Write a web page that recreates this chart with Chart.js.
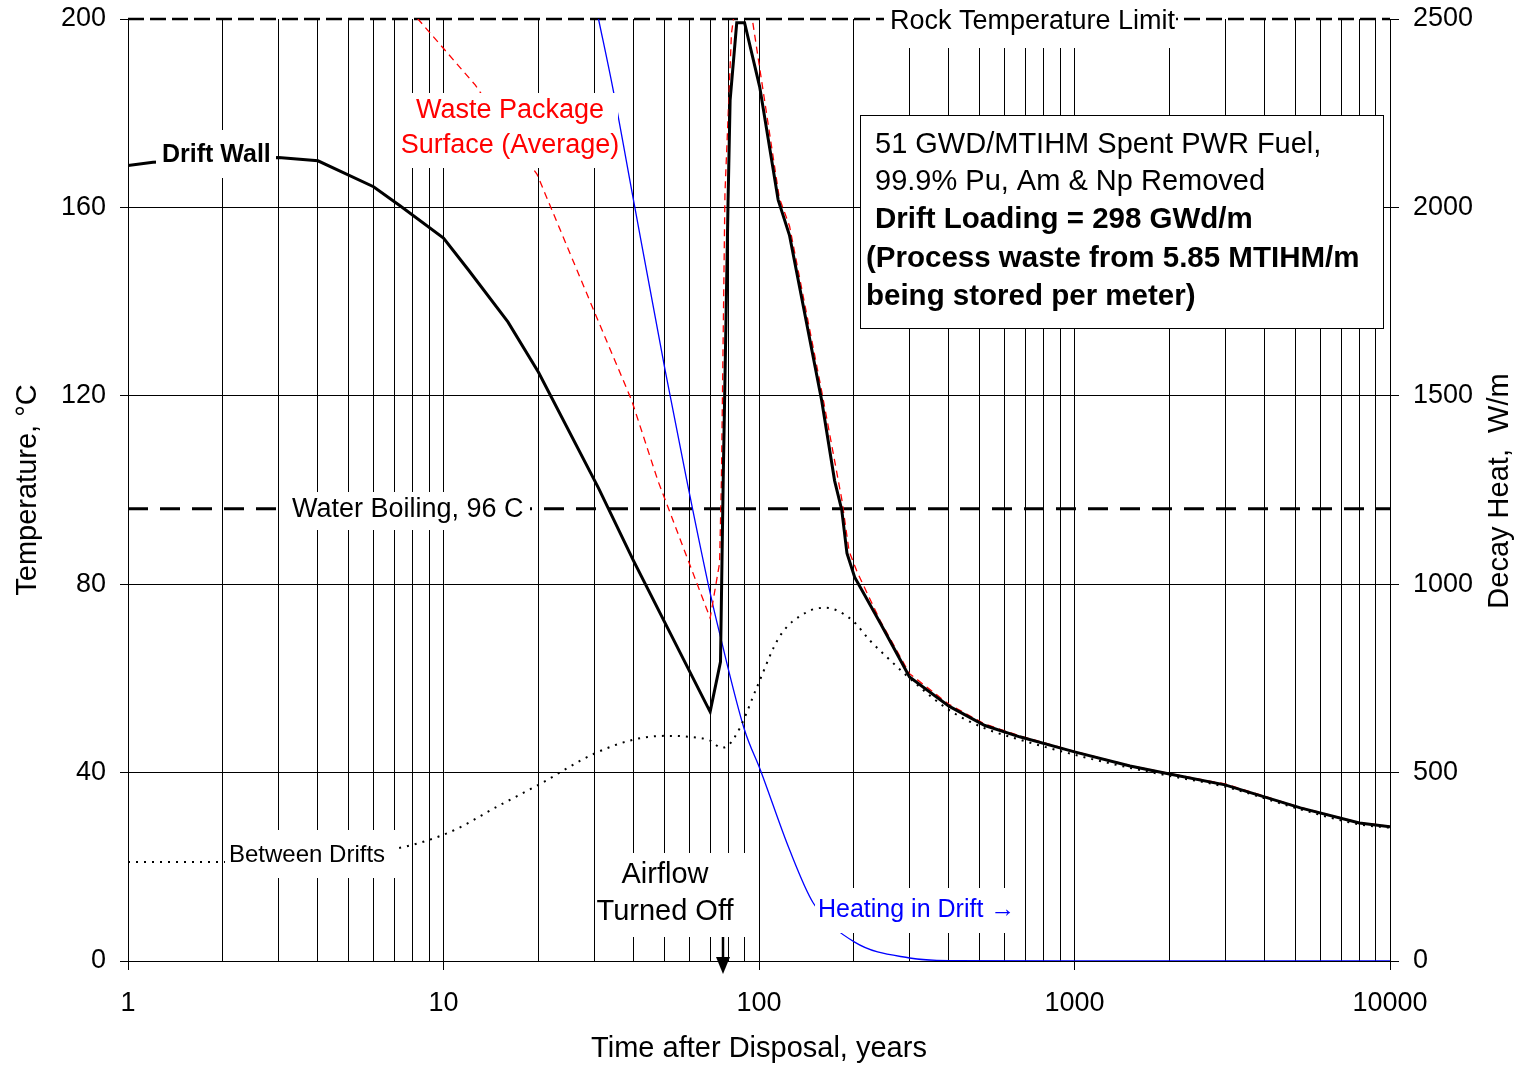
<!DOCTYPE html>
<html>
<head>
<meta charset="utf-8">
<title>Drift temperatures after disposal</title>
<script src="https://cdn.jsdelivr.net/npm/chart.js@4.4.1/dist/chart.umd.min.js"></script>
<style>
  html, body { margin: 0; padding: 0; background: #fff; }
  #wrap { width: 1520px; height: 1066px; }
</style>
</head>
<body>
<div id="wrap"><canvas id="chart" width="1520" height="1066"></canvas></div>
<script>
// years after disposal / temperature (C)
const driftWallYears = [1, 1.2, 3, 4, 6, 7.3, 10, 12, 16, 20, 31, 40, 70, 75.5, 77, 79.8, 81, 85, 90, 100.5, 115, 125, 158, 173.6, 183, 190, 201, 242, 300, 400, 520, 670, 1000, 1500, 2000, 3000, 5200, 8000, 10000];
const driftWallTemp  = [168.9, 169.6, 170.6, 169.9, 164.4, 160.3, 153.5, 146.7, 135.7, 125, 100.4, 85, 52.9, 63.5, 102, 161.6, 182.8, 199.2, 199.2, 185.6, 161.6, 154, 119, 102, 95.7, 86.6, 81.5, 71.8, 60.3, 54.1, 50, 47.6, 44.4, 41.4, 39.7, 37.4, 32.5, 29.3, 28.5];

const packageYears = [7, 8.3, 12.6, 19.8, 30, 39.5, 47.8, 70, 75, 76, 78, 81.8, 88, 95.7, 116, 125, 158, 183, 193, 205, 242, 300, 400, 520, 670, 1000, 1500, 2000, 3000, 5200, 8000, 10000];
const packageTemp  = [206, 200, 186, 167, 138, 119, 102, 72.8, 84.5, 102, 163, 197, 212, 199, 162, 156, 121, 98, 87, 82.5, 72.3, 61, 54.5, 50.3, 47.8, 44.5, 41.5, 39.8, 37.6, 32.6, 29.4, 28.6];

const betweenYears = [1, 2, 7, 10.5, 15, 20, 30, 40, 50, 60, 70, 76, 80, 87, 98.6, 116, 142, 162, 197, 225, 260, 297, 400, 520, 670, 1000, 1500, 2000, 3000, 5200, 8000, 10000];
const betweenTemp  = [21, 21, 23.8, 27.4, 33, 37.4, 44, 47, 47.8, 47.6, 46.8, 45.3, 45.8, 49.5, 58.2, 68.8, 74.1, 75, 72.4, 68, 63.9, 60.3, 53.3, 49.4, 47, 43.8, 41, 39.3, 37, 32.2, 29, 28.3];

// decay heat (W/m), right axis
const heatYears = [29, 31, 34.4, 40, 50.4, 59, 70, 75, 90, 101, 125, 148.6, 201, 300, 400, 1000, 10000];
const heatWm    = [2617, 2500, 2317, 2020, 1568, 1277, 977, 870, 613, 507, 295, 154, 50, 8, 1, 0, 0];

const rockLimit = 200;
const waterBoiling = 96;

const yearLabels = [1, 10, 100, 1000, 10000];
const tempTicks = [0, 40, 80, 120, 160, 200];
const heatTicks = [0, 500, 1000, 1500, 2000, 2500];

const FONT = '"Liberation Sans", Arial, sans-serif';
Chart.defaults.font.family = FONT;
Chart.defaults.color = '#000';

function pts(xs, ys) {
  return xs.map((x, i) => ({ x: x, y: ys[i] }));
}

// every 1..9 x 10^n position for the vertical grid
const yearGrid = [];
for (let e = 0; e < 4; e++) {
  for (let m = 1; m < 10; m++) yearGrid.push(m * Math.pow(10, e));
}
yearGrid.push(10000);

function noPad(s) {
  s.paddingTop = 0;
  s.paddingBottom = 0;
  s.paddingLeft = 0;
  s.paddingRight = 0;
}

function patch(ctx, x0, y0, x1, y1) {
  ctx.fillStyle = '#fff';
  ctx.fillRect(x0, y0, x1 - x0, y1 - y0);
}

function say(ctx, str, x, y, size, opt) {
  opt = opt || {};
  ctx.font = (opt.bold ? 'bold ' : '') + size + 'px ' + FONT;
  ctx.fillStyle = opt.color || '#000';
  ctx.textAlign = opt.align || 'left';
  ctx.textBaseline = 'middle';
  ctx.fillText(str, x, y);
}

const notes = {
  id: 'notes',
  afterDatasetsDraw(chart) {
    const ctx = chart.ctx;
    ctx.save();

    // Rock temperature limit
    patch(ctx, 884, 0, 1176, 48);
    say(ctx, 'Rock Temperature Limit', 890, 22, 27);

    // Waste package label
    patch(ctx, 400, 93, 618, 168);
    say(ctx, 'Waste Package', 510, 111, 27, { color: '#ff0000', align: 'center' });
    say(ctx, 'Surface (Average)', 510, 146, 27, { color: '#ff0000', align: 'center' });

    // Drift wall
    patch(ctx, 156, 130, 276, 178);
    say(ctx, 'Drift Wall', 162, 155, 25, { bold: true });

    // Water boiling
    patch(ctx, 282, 492, 530, 530);
    say(ctx, 'Water Boiling, 96 C', 292, 510, 27);

    // Between drifts
    patch(ctx, 225, 830, 396, 878);
    say(ctx, 'Between Drifts', 229, 855, 24);

    // Airflow turned off
    patch(ctx, 595, 853, 752, 937);
    say(ctx, 'Airflow', 665, 875, 29, { align: 'center' });
    say(ctx, 'Turned Off', 665, 912, 29, { align: 'center' });

    // Heating in drift
    patch(ctx, 815, 888, 1020, 933);
    say(ctx, 'Heating in Drift \u2192', 818, 910, 25, { color: '#0000ff' });

    // info box
    patch(ctx, 860, 115, 1383, 328);
    ctx.strokeStyle = '#000';
    ctx.lineWidth = 1;
    ctx.strokeRect(860.5, 115.5, 523, 213);
    say(ctx, '51 GWD/MTIHM Spent PWR Fuel,', 875, 145, 29);
    say(ctx, '99.9% Pu, Am & Np Removed', 875, 182, 29);
    say(ctx, 'Drift Loading = 298 GWd/m', 875, 220, 29.5, { bold: true });
    say(ctx, '(Process waste from 5.85 MTIHM/m', 866, 259, 29.5, { bold: true });
    say(ctx, 'being stored per meter)', 866, 297, 29.5, { bold: true });

    // arrow at airflow shut-off
    ctx.strokeStyle = '#000';
    ctx.lineWidth = 2.5;
    ctx.beginPath();
    ctx.moveTo(723, 937);
    ctx.lineTo(723, 962);
    ctx.stroke();
    ctx.fillStyle = '#000';
    ctx.beginPath();
    ctx.moveTo(716, 957);
    ctx.lineTo(730, 957);
    ctx.lineTo(723, 974);
    ctx.closePath();
    ctx.fill();

    // right axis title, reading upward like the left one
    ctx.translate(1500, 491);
    ctx.rotate(-Math.PI / 2);
    say(ctx, 'Decay Heat,  W/m', 0, 0, 29, { align: 'center' });

    ctx.restore();
  }
};

new Chart(document.getElementById('chart'), {
  type: 'line',
  data: {
    datasets: [
      { label: 'Drift Wall', data: pts(driftWallYears, driftWallTemp), yAxisID: 'y',
        borderColor: '#000', borderWidth: 3, tension: 0 },
      { label: 'Waste Package Surface (Average)', data: pts(packageYears, packageTemp), yAxisID: 'y',
        borderColor: '#ff0000', borderWidth: 1.3, borderDash: [7, 5], tension: 0 },
      { label: 'Between Drifts', data: pts(betweenYears, betweenTemp), yAxisID: 'y',
        borderColor: '#000', borderWidth: 2, borderDash: [2, 6], cubicInterpolationMode: 'monotone' },
      { label: 'Heating in Drift', data: pts(heatYears, heatWm), yAxisID: 'y2',
        borderColor: '#0000ff', borderWidth: 1.3, cubicInterpolationMode: 'monotone' },
      { label: 'Water Boiling', data: pts([1, 10000], [waterBoiling, waterBoiling]), yAxisID: 'y',
        borderColor: '#000', borderWidth: 3, borderDash: [20, 12] },
      { label: 'Rock Temperature Limit', data: pts([1, 10000], [rockLimit, rockLimit]), yAxisID: 'y',
        borderColor: '#000', borderWidth: 2.5, borderDash: [16, 6], clip: 5 }
    ]
  },
  options: {
    responsive: false,
    animation: false,
    layout: { padding: { top: 19, left: 0, right: 0, bottom: 0 } },
    elements: { point: { radius: 0 }, line: { fill: false } },
    plugins: { legend: { display: false }, tooltip: { enabled: false } },
    scales: {
      x: {
        type: 'logarithmic',
        min: 1,
        max: 10000,
        afterBuildTicks: s => { s.ticks = yearGrid.map(v => ({ value: v })); },
        afterFit: s => { s.height = 105; noPad(s); },
        ticks: {
          autoSkip: false,
          maxRotation: 0,
          padding: 17,
          font: { size: 27 },
          callback: v => yearLabels.includes(v) ? String(v) : ''
        },
        grid: {
          color: '#000',
          lineWidth: 1,
          tickLength: 9,
          tickColor: c => (c.tick && yearLabels.includes(c.tick.value)) ? '#000' : 'rgba(0,0,0,0)'
        },
        border: { color: '#000', width: 1 },
        title: {
          display: true,
          text: 'Time after Disposal, years',
          font: { size: 29 },
          padding: { top: 0, bottom: 0 }
        }
      },
      y: {
        position: 'left',
        min: 0,
        max: 200,
        afterBuildTicks: s => { s.ticks = tempTicks.map(v => ({ value: v })); },
        afterFit: s => { s.width = 128; noPad(s); },
        ticks: { padding: 14, font: { size: 27 }, callback: v => String(v) },
        grid: {
          color: c => (c.tick && c.tick.value === rockLimit) ? 'rgba(0,0,0,0)' : '#000',
          tickColor: '#000',
          lineWidth: 1,
          tickLength: 8
        },
        border: { color: '#000', width: 1 },
        title: {
          display: true,
          text: 'Temperature, \u00B0C',
          font: { size: 29 },
          padding: { top: 11, bottom: 0 }
        }
      },
      y2: {
        position: 'right',
        min: 0,
        max: 2500,
        afterBuildTicks: s => { s.ticks = heatTicks.map(v => ({ value: v })); },
        afterFit: s => { s.width = 130; noPad(s); },
        ticks: { padding: 14, font: { size: 27 }, callback: v => String(v) },
        grid: { drawOnChartArea: false, tickColor: '#000', tickLength: 9 },
        border: { color: '#000', width: 1 }
      }
    }
  },
  plugins: [notes]
});
</script>
</body>
</html>
